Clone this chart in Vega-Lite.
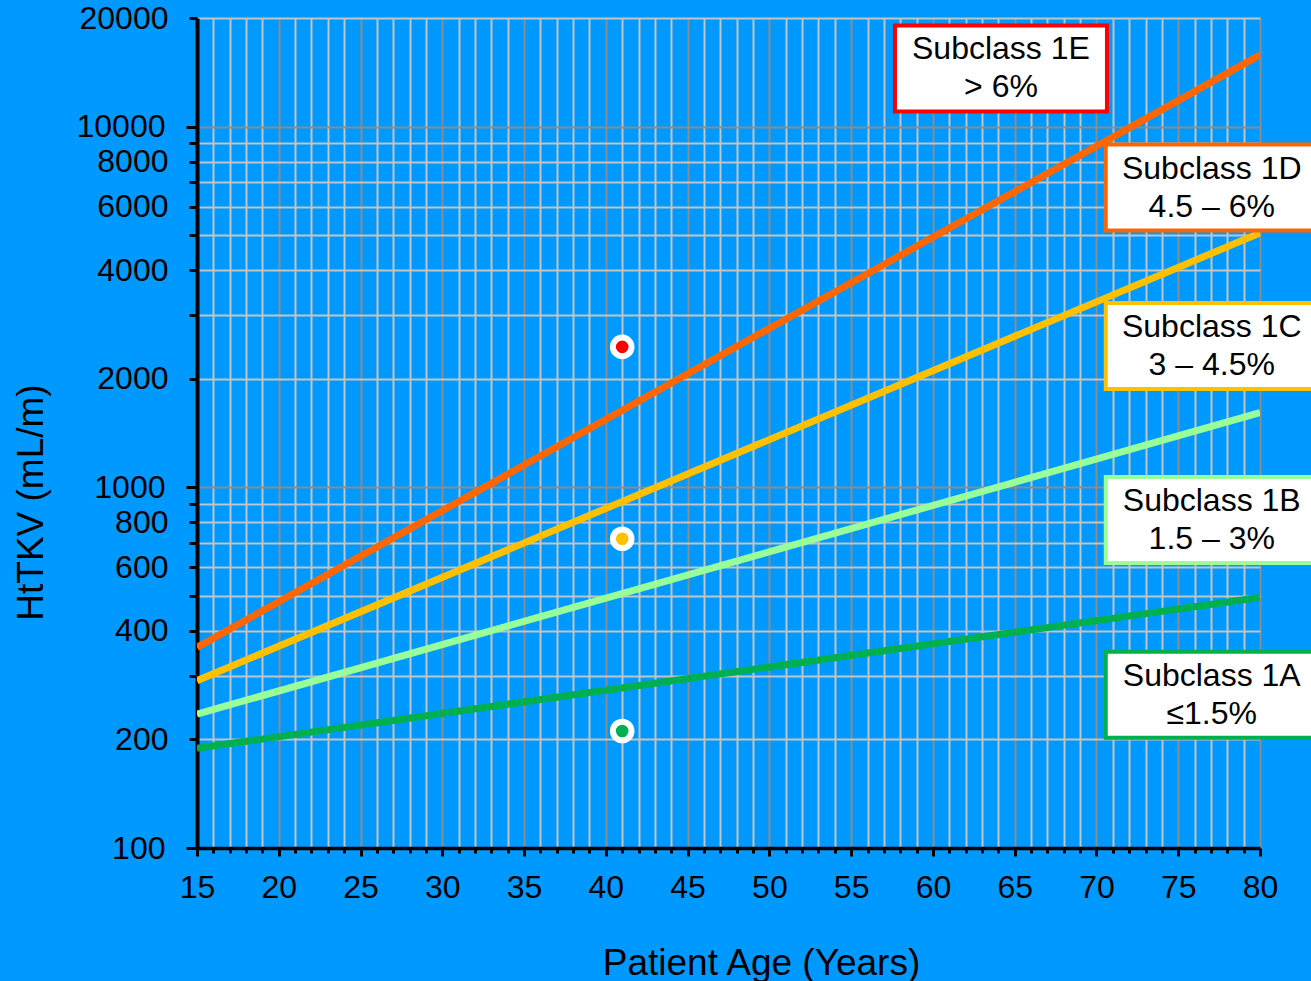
{
  "$schema": "https://vega.github.io/schema/vega-lite/v6.json",
  "width": 1063,
  "height": 830,
  "autosize": {"type": "none"},
  "padding": {"left": 197, "top": 18, "right": 51, "bottom": 133},
  "background": "#0099FF",
  "config": {
    "view": {"stroke": null},
    "font": "Liberation Sans",
    "axis": {
      "domainColor": "#000000",
      "tickColor": "#000000",
      "labelColor": "#000000",
      "labelFont": "Liberation Sans",
      "labelFontSize": 32,
      "titleFont": "Liberation Sans",
      "titleFontSize": 37,
      "titleFontWeight": "normal",
      "titleColor": "#000000",
      "grid": true,
      "gridWidth": 2,
      "tickWidth": 3,
      "labelOverlap": false,
      "labelFlush": false
    }
  },
  "datasets": {
    "curves": [
      {"subclass": "1A", "age": 15, "htkv": 189},
      {"subclass": "1A", "age": 80, "htkv": 495},
      {"subclass": "1B", "age": 15, "htkv": 235},
      {"subclass": "1B", "age": 80, "htkv": 1610},
      {"subclass": "1C", "age": 15, "htkv": 291},
      {"subclass": "1C", "age": 80, "htkv": 5070},
      {"subclass": "1D", "age": 15, "htkv": 360},
      {"subclass": "1D", "age": 80, "htkv": 15800}
    ],
    "patients": [
      {"subclass": "1E", "age": 41, "htkv": 2450},
      {"subclass": "1C", "age": 41, "htkv": 720},
      {"subclass": "1A", "age": 41, "htkv": 211}
    ],
    "labels": [
      {"subclass": "1E", "label": "Subclass 1E\n> 6%", "age": 64.16, "htkv": 14490},
      {"subclass": "1D", "label": "Subclass 1D\n4.5 – 6%", "age": 77.05, "htkv": 6775},
      {"subclass": "1C", "label": "Subclass 1C\n3 – 4.5%", "age": 77.05, "htkv": 2465},
      {"subclass": "1B", "label": "Subclass 1B\n1.5 – 3%", "age": 77.05, "htkv": 812},
      {"subclass": "1A", "label": "Subclass 1A\n≤1.5%", "age": 77.05, "htkv": 266}
    ]
  },
  "encoding": {
    "x": {
      "field": "age",
      "type": "quantitative",
      "scale": {"domain": [15, 80], "nice": false, "zero": false},
      "axis": {
        "title": "Patient Age (Years)",
        "values": [15,16,17,18,19,20,21,22,23,24,25,26,27,28,29,30,31,32,33,34,35,36,37,38,39,40,41,42,43,44,45,46,47,48,49,50,51,52,53,54,55,56,57,58,59,60,61,62,63,64,65,66,67,68,69,70,71,72,73,74,75,76,77,78,79,80],
        "labelExpr": "datum.value % 5 === 0 ? datum.label : ''",
        "domainWidth": 3.5,
        "tickSize": {"condition": {"test": "datum.value % 5 === 0", "value": 8}, "value": 5},
        "gridColor": {"condition": {"test": "datum.value % 5 === 0", "value": "#8C8C8C"}, "value": "#C4C4C4"},
        "labelPadding": 16,
        "labelBaseline": "top",
        "titleX": 564,
        "titleY": 126,
        "titleAlign": "center",
        "titleBaseline": "alphabetic"
      }
    },
    "y": {
      "field": "htkv",
      "type": "quantitative",
      "scale": {"type": "log", "domain": [100, 20000], "nice": false},
      "axis": {
        "title": "HtTKV (mL/m)",
        "values": [100,200,300,400,500,600,700,800,900,1000,2000,3000,4000,5000,6000,7000,8000,9000,10000,20000],
        "format": "d",
        "labelExpr": "indexof([100,200,400,600,800,1000,2000,4000,6000,8000,10000,20000], datum.value) >= 0 ? datum.label : ''",
        "domainWidth": 4,
        "tickSize": {"condition": {"test": "datum.value === 100 || datum.value === 1000 || datum.value === 10000", "value": 11}, "value": 8},
        "gridColor": {"condition": {"test": "datum.value === 100 || datum.value === 1000 || datum.value === 10000", "value": "#8C8C8C"}, "value": "#C4C4C4"},
        "labelPadding": 21,
        "titleX": -155,
        "titleY": 484,
        "titleAngle": -90,
        "titleAlign": "center",
        "titleBaseline": "alphabetic"
      }
    },
    "color": {
      "field": "subclass",
      "type": "nominal",
      "legend": null,
      "scale": {
        "domain": ["1A", "1B", "1C", "1D", "1E"],
        "range": ["#00B050", "#99FF99", "#FFC000", "#FF6600", "#FF0000"]
      }
    }
  },
  "layer": [
    {
      "data": {"name": "curves"},
      "mark": {"type": "line", "strokeWidth": 7, "clip": true},
      "encoding": {"detail": {"field": "subclass"}}
    },
    {
      "data": {"name": "patients"},
      "mark": {"type": "point", "shape": "circle", "filled": true, "size": 346, "opacity": 1, "stroke": "#FFFFFF", "strokeWidth": 6}
    },
    {
      "data": {"name": "labels"},
      "mark": {"type": "point", "shape": "M-2.12,-0.86H2.12V0.86H-2.12Z", "size": 10000, "filled": false, "fill": "#FFFFFF", "fillOpacity": 1, "opacity": 1, "strokeWidth": 4, "clip": false},
      "encoding": {
        "stroke": {"field": "subclass", "type": "nominal", "legend": null, "scale": {"domain": ["1A", "1B", "1C", "1D", "1E"], "range": ["#00B050", "#99FF99", "#FFC000", "#FF6600", "#FF0000"]}},
        "color": {"value": null}
      }
    },
    {
      "data": {"name": "labels"},
      "mark": {"type": "text", "lineBreak": "\n", "fontSize": 32, "lineHeight": 38, "align": "center", "baseline": "middle", "dy": -19, "font": "Liberation Sans", "clip": false},
      "encoding": {
        "text": {"field": "label"},
        "color": {"value": "#000000"}
      }
    }
  ]
}
